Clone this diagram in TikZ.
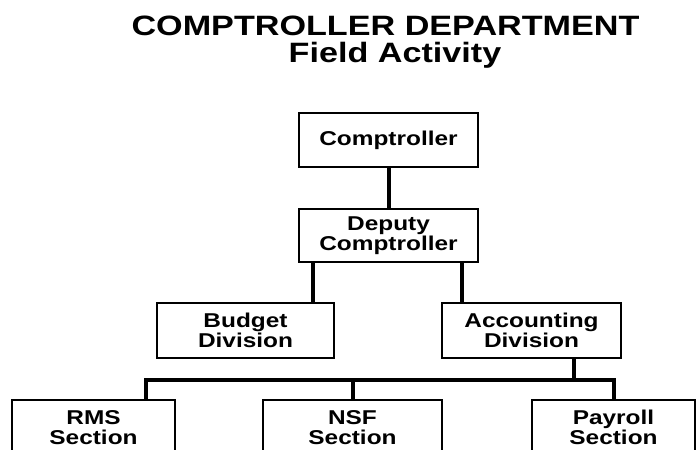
\documentclass[tikz,border=0pt]{standalone}
\usepackage{fontspec}
\setmainfont[FakeStretch=1.22]{Liberation Sans}
\usepackage{tikz}
\newcommand{\titlefont}{\fontsize{28}{27}\selectfont\bfseries}
\newcommand{\unitfont}{\fontsize{20}{19.5}\selectfont\bfseries}

\begin{document}
\begin{tikzpicture}[x=1pt,y=-1pt,
  unit/.style={draw, line width=1.2pt, inner sep=0pt, align=center,
    minimum width=179pt, minimum height=55pt, font=\unitfont},
  link/.style={line width=4pt, line join=miter}]
\useasboundingbox (0,0) rectangle (700,449);
\clip (0,0) rectangle (700,449);
% title
\node[anchor=base, font=\titlefont] (title) at (385.5,36) {COMPTROLLER DEPARTMENT};
\node[anchor=base, font=\titlefont] (subtitle) at (395,63) {Field Activity};
% units
\node[unit, minimum height=54pt] (comp) at (388.5,140) {Comptroller};
\node[unit, minimum height=53pt] (dep) at (388.5,235.5) {Deputy\\Comptroller};
\node[unit, minimum width=177pt] (bud) at (245.5,330.5) {Budget\\Division};
\node[unit] (acc) at (531.5,330.5) {Accounting\\Division};
\node[unit, minimum width=163pt] (rms) at (93.5,427.5) {RMS\\Section};
\node[unit] (nsf) at (352.5,427.5) {NSF\\Section};
\node[unit, minimum width=163pt] (pay) at (613.5,427.5) {Payroll\\Section};
% links
\draw[link] (comp.south) -- (dep.north);
\draw[link] ([xshift=15pt]dep.south west) -- ([xshift=15pt]dep.south west |- bud.north);
\draw[link] ([xshift=-17pt]dep.south east) -- ([xshift=-17pt]dep.south east |- acc.north);
\draw[link] ([xshift=-48pt]acc.south east) -- ++(0,23);
\draw[link] ([xshift=-30pt]rms.north east) -- ++(0,-19) -| (pay.north);
\draw[link] (nsf.north) -- ++(0,-19);
%\draw[link] (acc.south) -- ++(0,23);
\end{tikzpicture}
\end{document}
